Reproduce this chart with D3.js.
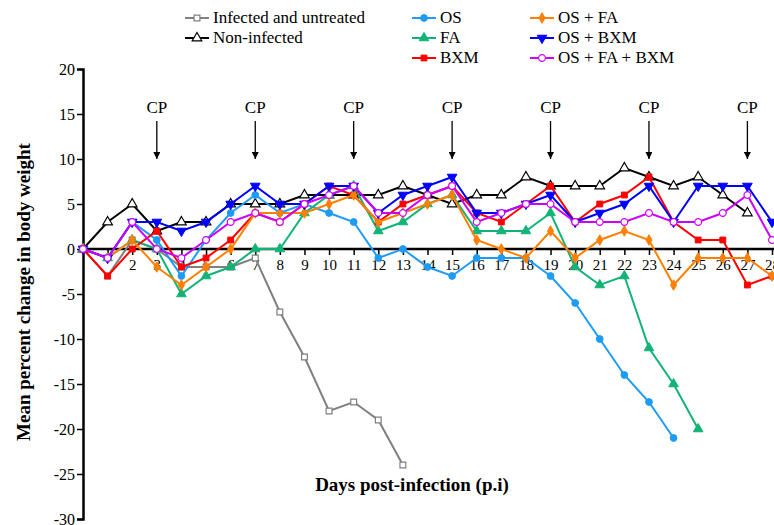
<!DOCTYPE html>
<html>
<head>
<meta charset="utf-8">
<script src="https://d3js.org/d3.v7.min.js"></script>
<style>
  body { margin: 0; background: #fff; }
  svg text { font-family: "Liberation Serif", "Times New Roman", serif; }
</style>
</head>
<body>
<script>
var width = 774
var height = 525

// data
var days = d3.range(0, 29);
var cpDays = [3, 7, 11, 15, 19, 23, 27];
var yTicks = [20, 15, 10, 5, 0, -5, -10, -15, -20, -25, -30];

var untreated = [0, -3, 1, 0, -2, -2, -2, -1, -7, -12, -18, -17, -19, -24];
var nonInfected = [0, 3, 5, 2, 3, 3, 5, 5, 5, 6, 6, 6, 6, 7, 6, 5, 6, 6, 8, 7, 7, 7, 9, 8, 7, 8, 6, 4];
var os = [0, -1, 3, 1, -3, 1, 4, 6, 4, 5, 4, 3, -1, 0, -2, -3, -1, -1, -1, -3, -6, -10, -14, -17, -21];
var fa = [0, -1, 1, 0, -5, -3, -2, 0, 0, 4, 6, 7, 2, 3, 5, 6, 2, 2, 2, 4, -2, -4, -3, -11, -15, -20];
var bxm = [0, -3, 0, 2, -2, -1, 1, 4, 3, 5, 7, 6, 3, 5, 6, 7, 4, 3, 5, 7, 3, 5, 6, 8, 3, 1, 1, -4, -3];
var osFa = [0, -1, 1, -2, -4, -2, 0, 4, 4, 4, 5, 6, 3, 4, 5, 6, 1, 0, -1, 2, -1, 1, 2, 1, -4, -1, -1, -1, -3];
var osBxm = [0, -1, 3, 3, 2, 3, 5, 7, 5, 5, 7, 7, 4, 6, 7, 8, 4, 4, 5, 6, 3, 4, 5, 7, 3, 7, 7, 7, 3];
var osFaBxm = [0, -1, 3, 0, -1, 1, 3, 4, 3, 5, 6, 7, 4, 4, 6, 7, 3, 4, 5, 5, 3, 3, 3, 4, 3, 3, 4, 6, 1];

var series = [
    {name: "Infected and untreated", values: untreated, color: "#808080", symbol: d3.symbolSquare, fill: false},
    {name: "Non-infected", values: nonInfected, color: "#000000", symbol: d3.symbolTriangle, fill: false},
    {name: "OS", values: os, color: "#1E9BF5", symbol: d3.symbolCircle, fill: true},
    {name: "FA", values: fa, color: "#12B377", symbol: d3.symbolTriangle, fill: true},
    {name: "BXM", values: bxm, color: "#FF0000", symbol: d3.symbolSquare, fill: true},
    {name: "OS + FA", values: osFa, color: "#FF8000", symbol: d3.symbolDiamond, fill: true},
    {name: "OS + BXM", values: osBxm, color: "#0000FF", symbol: "down", fill: true},
    {name: "OS + FA + BXM", values: osFaBxm, color: "#CC00FF", symbol: d3.symbolCircle, fill: false}
];

var svg = d3.select("body").append("svg")
            .attr("width", width)
            .attr("height", height);

var x = d3.scaleLinear().domain([0, 28]).range([83, 772]);
var y = d3.scaleLinear().domain([-30, 20]).range([519, 69]);

// y axis
var yAxis = svg.append("g")
               .attr("transform", "translate(83,0)")
               .call(d3.axisLeft(y).tickValues(yTicks).tickSize(6).tickPadding(2)
                       .tickFormat(function(d){ return String(d); }));
yAxis.attr("font-family", null);
yAxis.select(".domain").attr("stroke-width", 2.5);
yAxis.selectAll(".tick line").attr("stroke-width", 1.5);
yAxis.selectAll("text").style("font-size", "16px").attr("fill", "#000");

// x axis at zero (label of day 1 is hidden under the markers in the original)
var xAxis = svg.append("g")
               .attr("transform", "translate(0," + y(0) + ")")
               .call(d3.axisBottom(x).tickValues(days.slice(1)).tickSize(6).tickSizeOuter(0).tickPadding(4)
                       .tickFormat(function(d){ return d == 1 ? "" : String(d); }));
xAxis.attr("font-family", null);
xAxis.select(".domain").attr("stroke-width", 2.5).attr("d", "M83,0H774");
xAxis.selectAll(".tick line").attr("stroke-width", 1.5);
xAxis.selectAll("text").style("font-size", "15px").attr("fill", "#000");

// axis titles
svg.append("text")
   .attr("transform", "translate(30,292) rotate(-90)")
   .attr("text-anchor", "middle")
   .style("font-size", "19px")
   .style("font-weight", "bold")
   .text("Mean percent change in body weight");

svg.append("text")
   .attr("x", 412)
   .attr("y", 491)
   .attr("text-anchor", "middle")
   .style("font-size", "19px")
   .style("font-weight", "bold")
   .text("Days post-infection (p.i)");

// CP arrows
svg.append("defs").append("marker")
   .attr("id", "arrow")
   .attr("viewBox", "0 0 10 10")
   .attr("refX", 10).attr("refY", 5)
   .attr("markerWidth", 8).attr("markerHeight", 7)
   .attr("markerUnits", "userSpaceOnUse")
   .attr("orient", "auto")
   .append("path").attr("d", "M0,0L10,5L0,10z").attr("fill", "#000");

cpDays.forEach(function(d){
    svg.append("text")
       .attr("x", x(d))
       .attr("y", 113)
       .attr("text-anchor", "middle")
       .style("font-size", "17px")
       .text("CP");
    svg.append("line")
       .attr("x1", x(d)).attr("x2", x(d))
       .attr("y1", 121).attr("y2", 159)
       .attr("stroke", "#000")
       .attr("stroke-width", 1.3)
       .attr("marker-end", "url(#arrow)");
});

var symbolPath = function(s, size){
    if(s == "down"){
        return d3.symbol().type(d3.symbolTriangle).size(size)();
    }
    return d3.symbol().type(s).size(size)();
}

var drawMarker = function(g, s, px, py, color, fill){
    var size = s == d3.symbolCircle ? 36 : (s == d3.symbolSquare ? 34 : (s == d3.symbolDiamond ? 32 : 40));
    g.append("path")
     .attr("d", symbolPath(s, size))
     .attr("transform", "translate(" + px + "," + py + ")" + (s == "down" ? " rotate(180)" : ""))
     .attr("fill", fill ? color : "#fff")
     .attr("stroke", color)
     .attr("stroke-width", fill ? 1 : 1.2);
}

var line = d3.line()
             .x(function(d, i){ return x(i); })
             .y(function(d){ return y(d); });

series.forEach(function(s){
    var g = svg.append("g");
    g.append("path")
     .attr("d", line(s.values))
     .attr("fill", "none")
     .attr("stroke", s.color)
     .attr("stroke-width", 2);
    s.values.forEach(function(v, i){
        drawMarker(g, s.symbol, x(i), y(v), s.color, s.fill);
    });
});

// legend
var legendPos = [
    [185, 18], [185, 38],
    [412, 18], [412, 38], [412, 58],
    [530, 18], [530, 38], [530, 58]
];
series.forEach(function(s, i){
    var lx = legendPos[i][0], ly = legendPos[i][1];
    var g = svg.append("g");
    g.append("line")
     .attr("x1", lx).attr("x2", lx + 24)
     .attr("y1", ly).attr("y2", ly)
     .attr("stroke", s.color)
     .attr("stroke-width", 2);
    drawMarker(g, s.symbol, lx + 12, ly, s.color, s.fill);
    g.append("text")
     .attr("x", lx + 28)
     .attr("y", ly + 5)
     .style("font-size", "17px")
     .text(s.name);
});
</script>
</body>
</html>
